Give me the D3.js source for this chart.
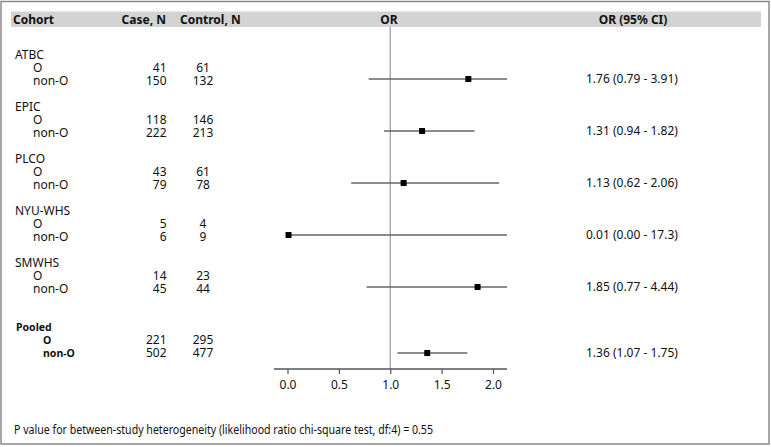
<!DOCTYPE html>
<html><head><meta charset="utf-8">
<script src="https://cdn.jsdelivr.net/npm/d3@7"></script>
<style>body{margin:0;background:#fff}svg{display:block}text{font-family:"Noto Sans",sans-serif;fill:#111}</style>
</head><body><svg id="c" width="771" height="447"></svg>
<script>
const cohorts = ["ATBC","EPIC","PLCO","NYU-WHS","SMWHS"];
const subgroups = ["O","non-O"];
const caseN = [[41,150],[118,222],[43,79],[5,6],[14,45]];
const controlN = [[61,132],[146,213],[61,78],[4,9],[23,44]];
const orVal = [1.76,1.31,1.13,0.01,1.85];
const ciLow = [0.79,0.94,0.62,0.00,0.77];
const ciHigh = [3.91,1.82,2.06,17.3,4.44];
const ciText = ["1.76 (0.79 - 3.91)","1.31 (0.94 - 1.82)","1.13 (0.62 - 2.06)","0.01 (0.00 - 17.3)","1.85 (0.77 - 4.44)"];
const pooledLabel = "Pooled";
const pooledCase = [221,502];
const pooledControl = [295,477];
const pooledOR = 1.36, pooledLow = 1.07, pooledHigh = 1.75;
const pooledText = "1.36 (1.07 - 1.75)";
const ticks = [0,0.5,1.0,1.5,2.0];
const headers = ["Cohort","Case, N","Control, N","OR","OR (95% CI)"];
const footnote = "P value for between-study heterogeneity (likelihood ratio chi-square test, df:4) = 0.55";

const svg = d3.select("#c");
svg.append("rect").attr("x",1).attr("y",1.5).attr("width",768).attr("height",442.5)
  .attr("fill","none").attr("stroke","#8a8a8a").attr("stroke-width",1.5);
svg.append("rect").attr("x",11).attr("y",11.5).attr("width",750).attr("height",15.5).attr("fill","#d3d3d3");

const fs = 12;
const hdr = svg.append("g").attr("font-weight","bold").attr("font-size",fs);
hdr.append("text").attr("x",13).attr("y",23.5).text(headers[0]);
hdr.append("text").attr("x",166).attr("y",23.5).attr("text-anchor","end").text(headers[1]);
hdr.append("text").attr("x",180).attr("y",23.5).text(headers[2]);
hdr.append("text").attr("x",389).attr("y",23.5).attr("text-anchor","middle").text(headers[3]);
hdr.append("text").attr("x",633).attr("y",23.5).attr("text-anchor","middle").text(headers[4]);

const x = d3.scaleLinear().domain([0,2]).range([287.5,493]);
const xMin = x.invert(274), xMax = x.invert(507);
const groupY = i => 54.5 + i*52;
const rowDy = 13;
const axisY = 369;

svg.append("line").attr("x1",x(1)).attr("x2",x(1)).attr("y1",27).attr("y2",axisY)
  .attr("stroke","#999").attr("stroke-width",1.2);

cohorts.forEach((c,i)=>{
  const y0 = groupY(i);
  svg.append("text").attr("x",15).attr("y",y0).attr("dy","0.35em").attr("font-size",fs).text(c);
  subgroups.forEach((s,j)=>{
    const y = y0 + rowDy*(j+1);
    svg.append("text").attr("x",33).attr("y",y).attr("dy","0.35em").attr("font-size",fs).text(s);
    svg.append("text").attr("x",166.5).attr("y",y).attr("dy","0.35em").attr("font-size",fs).attr("text-anchor","end").text(caseN[i][j]);
    svg.append("text").attr("x",203).attr("y",y).attr("dy","0.35em").attr("font-size",fs).attr("text-anchor","middle").text(controlN[i][j]);
  });
  const ly = groupY(i) + rowDy*2 - 1.5;
  svg.append("line").attr("x1",x(Math.max(ciLow[i],xMin))).attr("x2",x(Math.min(ciHigh[i],xMax)))
    .attr("y1",ly).attr("y2",ly).attr("stroke","#666").attr("stroke-width",1.3);
  svg.append("rect").attr("x",x(orVal[i])-3).attr("y",ly-3).attr("width",6).attr("height",6).attr("fill","#000");
  svg.append("text").attr("x",586).attr("y",ly).attr("dy","0.35em").attr("font-size",fs).text(ciText[i]);
});

const py = 327;
svg.append("text").attr("x",16).attr("y",py).attr("dy","0.35em").attr("font-size",10.5).attr("font-weight","bold").text(pooledLabel);
subgroups.forEach((s,j)=>{
  const y = py + rowDy*(j+1);
  svg.append("text").attr("x",43).attr("y",y).attr("dy","0.35em").attr("font-size",10.5).attr("font-weight","bold").text(s);
  svg.append("text").attr("x",166.5).attr("y",y).attr("dy","0.35em").attr("font-size",fs).attr("text-anchor","end").text(pooledCase[j]);
  svg.append("text").attr("x",203).attr("y",y).attr("dy","0.35em").attr("font-size",fs).attr("text-anchor","middle").text(pooledControl[j]);
});
const ply = py + rowDy*2;
svg.append("line").attr("x1",x(pooledLow)).attr("x2",x(pooledHigh)).attr("y1",ply).attr("y2",ply).attr("stroke","#666").attr("stroke-width",1.3);
svg.append("rect").attr("x",x(pooledOR)-3).attr("y",ply-3).attr("width",6).attr("height",6).attr("fill","#000");
svg.append("text").attr("x",586).attr("y",ply).attr("dy","0.35em").attr("font-size",fs).text(pooledText);

const ax = svg.append("g").attr("transform",`translate(0,${axisY})`)
  .call(d3.axisBottom(x).tickValues(ticks).tickFormat(d3.format(".1f")).tickSize(5).tickSizeOuter(0).tickPadding(6));
ax.select(".domain").remove();
ax.append("line").attr("x1",274).attr("x2",507).attr("stroke","#555").attr("stroke-width",1.3);
ax.selectAll(".tick line").attr("stroke","#555").attr("stroke-width",1.2);
ax.selectAll(".tick text").attr("font-size",fs).attr("font-family","Noto Sans, sans-serif").attr("fill","#111");

svg.append("text").attr("x",14).attr("y",430).attr("dy","0.35em").attr("font-size",fs)
  .attr("textLength",419).attr("lengthAdjust","spacingAndGlyphs").text(footnote);
</script></body></html>
